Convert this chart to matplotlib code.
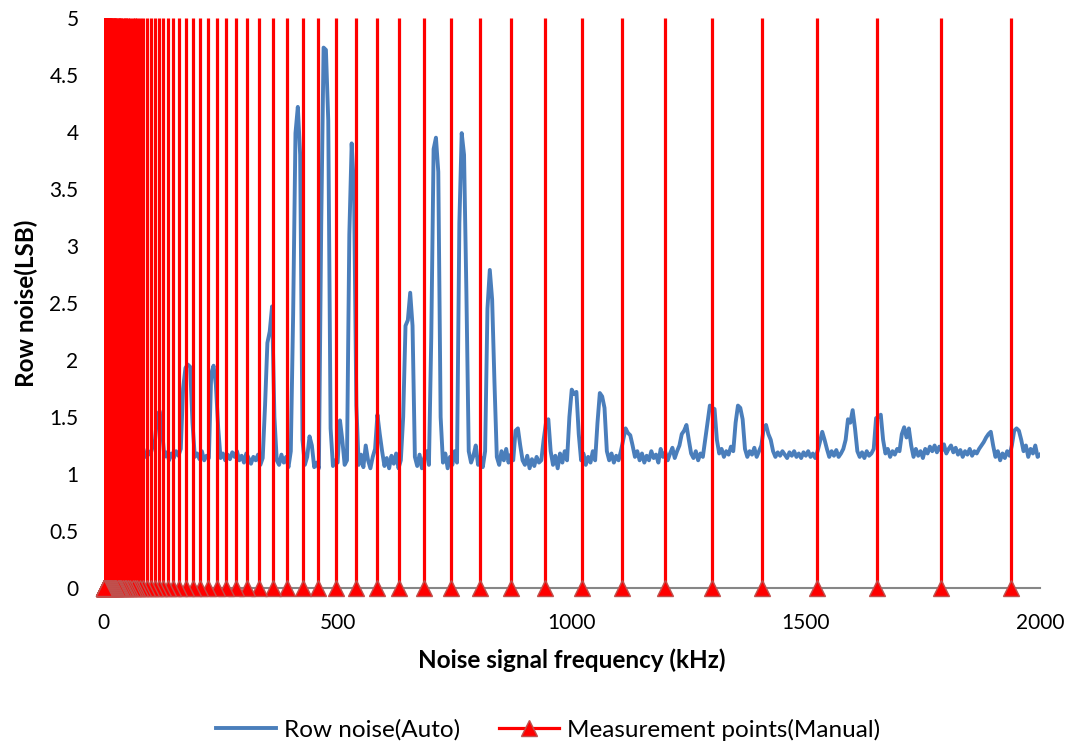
import numpy as np
import matplotlib.pyplot as plt
from matplotlib.lines import Line2D
from matplotlib.ticker import FormatStrFormatter

plt.rcParams['font.family'] = ['Lato', 'DejaVu Sans']

meas_khz = [1938, 1789, 1651, 1524, 1407, 1300, 1199, 1107, 1022, 943,
            871, 804, 743, 685, 632, 584, 539, 497, 459, 425,
            391, 361, 333, 307, 284, 262, 242, 224, 206, 190.5,
            176, 162, 149, 137, 128, 118.5, 110, 101.5, 92, 85,
            78, 72, 67, 62, 57, 53, 49, 45, 41.5, 38,
            35, 32.5, 30, 27.7, 25.6, 23.6, 21.8, 20, 18.5, 17,
            15.7, 14.5, 13.4, 12.4, 11.4, 10.5, 9.7, 9, 8.3, 7.6,
            7, 6.5, 6, 5.5, 5.1, 4.7, 4.4, 4, 3.7, 3.4,
            3.2, 2.9, 2.7, 2.5, 2.3, 2.1, 1.9, 1.8, 1.6, 1.5,
            1.4, 1.3, 1.2, 1.1, 1.0]

# automatic sweep, 5 kHz step from 80 to 2000 kHz
noise_khz = np.arange(80, 2001, 5)
noise_lsb = [
    1.18, 1.22, 1.15, 1.20, 1.17, 1.24, 1.30, 1.52, 1.55, 1.38, 1.15, 1.19, 1.12, 1.18, 1.14, 1.20, 1.16, 1.22, 1.75, 1.93,
    1.96, 1.94, 1.45, 1.15, 1.18, 1.13, 1.20, 1.12, 1.16, 1.14, 1.88, 1.95, 1.78, 1.40, 1.14, 1.18, 1.12, 1.17, 1.13, 1.19,
    1.15, 1.20, 1.12, 1.16, 1.10, 1.18, 1.14, 1.09, 1.15, 1.12, 1.17, 1.08, 1.14, 1.60, 2.15, 2.25, 2.47, 1.50, 1.12, 1.08,
    1.17, 1.10, 1.15, 1.06, 1.20, 2.40, 3.99, 4.22, 3.80, 1.30, 1.08, 1.15, 1.33, 1.25, 1.06, 1.10, 1.05, 3.20, 4.74, 4.72,
    4.10, 1.40, 1.07, 1.12, 1.10, 1.47, 1.30, 1.08, 1.12, 3.10, 3.90, 3.50, 1.60, 1.08, 1.17, 1.06, 1.25, 1.12, 1.05, 1.15,
    1.22, 1.52, 1.35, 1.20, 1.07, 1.14, 1.05, 1.16, 1.09, 1.18, 1.05, 1.12, 1.50, 2.30, 2.35, 2.59, 2.30, 1.15, 1.07, 1.17,
    1.05, 1.14, 1.20, 1.08, 2.20, 3.85, 3.95, 3.65, 1.50, 1.10, 1.18, 1.05, 1.15, 1.08, 1.20, 1.10, 3.20, 3.99, 3.80, 2.60,
    1.20, 1.10, 1.16, 1.25, 1.08, 1.15, 1.06, 1.20, 2.45, 2.79, 2.53, 1.80, 1.15, 1.08, 1.20, 1.12, 1.22, 1.10, 1.17, 1.12,
    1.38, 1.40, 1.25, 1.12, 1.08, 1.16, 1.05, 1.13, 1.07, 1.15, 1.10, 1.12, 1.30, 1.45, 1.48, 1.20, 1.08, 1.16, 1.05, 1.18,
    1.10, 1.20, 1.12, 1.50, 1.74, 1.70, 1.72, 1.35, 1.12, 1.18, 1.08, 1.15, 1.10, 1.20, 1.12, 1.45, 1.71, 1.68, 1.58, 1.20,
    1.12, 1.18, 1.10, 1.16, 1.12, 1.20, 1.30, 1.40, 1.36, 1.34, 1.25, 1.15, 1.20, 1.12, 1.18, 1.10, 1.16, 1.12, 1.20, 1.14,
    1.17, 1.10, 1.22, 1.15, 1.19, 1.12, 1.18, 1.23, 1.14, 1.20, 1.25, 1.35, 1.38, 1.43, 1.30, 1.18, 1.14, 1.20, 1.12, 1.18,
    1.15, 1.30, 1.45, 1.60, 1.58, 1.57, 1.30, 1.18, 1.22, 1.15, 1.20, 1.17, 1.24, 1.20, 1.45, 1.60, 1.58, 1.48, 1.22, 1.15,
    1.20, 1.17, 1.23, 1.15, 1.20, 1.25, 1.40, 1.43, 1.35, 1.30, 1.20, 1.15, 1.19, 1.16, 1.20, 1.17, 1.14, 1.19, 1.16, 1.20,
    1.15, 1.18, 1.14, 1.19, 1.16, 1.20, 1.15, 1.18, 1.14, 1.20, 1.28, 1.37, 1.30, 1.22, 1.15, 1.20, 1.16, 1.21, 1.15, 1.18,
    1.22, 1.30, 1.48, 1.45, 1.56, 1.40, 1.20, 1.15, 1.19, 1.14, 1.20, 1.16, 1.18, 1.22, 1.49, 1.50, 1.52, 1.30, 1.18, 1.22,
    1.15, 1.20, 1.17, 1.22, 1.20, 1.35, 1.41, 1.32, 1.40, 1.25, 1.15, 1.22, 1.16, 1.20, 1.14, 1.22, 1.18, 1.24, 1.20, 1.25,
    1.19, 1.24, 1.20, 1.26, 1.18, 1.22, 1.25, 1.19, 1.23, 1.17, 1.21, 1.15, 1.20, 1.17, 1.22, 1.16, 1.20, 1.18, 1.22, 1.25,
    1.28, 1.32, 1.35, 1.37, 1.25, 1.15, 1.20, 1.12, 1.18, 1.14, 1.20, 1.16, 1.25, 1.38, 1.40, 1.38, 1.30, 1.20, 1.25, 1.15,
    1.22, 1.18, 1.25, 1.15, 1.17]

x_ticks = [0, 500, 1000, 1500, 2000]
y_ticks = [0, 0.5, 1, 1.5, 2, 2.5, 3, 3.5, 4, 4.5, 5]

blue = '#4A7EBB'
red = '#FF0000'

fig = plt.figure(figsize=(10.76, 7.46), dpi=100)
ax = fig.add_axes([0.0962, 0.2118, 0.8703, 0.7641])

ax.plot(noise_khz, noise_lsb, color=blue, lw=2.8, zorder=2)
ax.vlines(meas_khz, 0, 5, color=red, lw=2.3, zorder=3)
ax.plot(meas_khz, np.zeros(len(meas_khz)), ls='none', marker='^', ms=12,
        mfc=red, mec='#C0504D', mew=1, clip_on=False, zorder=5)

ax.set_xlim(0, 2000)
ax.set_ylim(0, 5)
ax.set_xticks(x_ticks)
ax.set_yticks(y_ticks)
ax.yaxis.set_major_formatter(FormatStrFormatter('%g'))
ax.tick_params(length=0, labelsize=15, colors='black')
ax.tick_params(axis='y', pad=18)
ax.tick_params(axis='x', pad=18)

for s in ['top', 'right', 'left']:
    ax.spines[s].set_visible(False)
ax.spines['bottom'].set_color('#868686')
ax.spines['bottom'].set_linewidth(1.5)
ax.spines['bottom'].set_zorder(4)

ax.set_xlabel('Noise signal frequency (kHz)', fontsize=17.5, fontweight='bold', labelpad=11)
ax.set_ylabel('Row noise(LSB)', fontsize=17.5, fontweight='bold', labelpad=8)

handles = [Line2D([], [], color=blue, lw=2.8),
           Line2D([], [], color=red, lw=2.3, marker='^', ms=12, mfc=red, mec='#C0504D')]
fig.legend(handles, ['Row noise(Auto)', 'Measurement points(Manual)'],
           loc='lower center', bbox_to_anchor=(0.509, -0.022), ncol=2, frameon=False,
           fontsize=17.5, handlelength=2.5, handletextpad=0.3, columnspacing=1.6)

fig.savefig('out.png', dpi=100)
